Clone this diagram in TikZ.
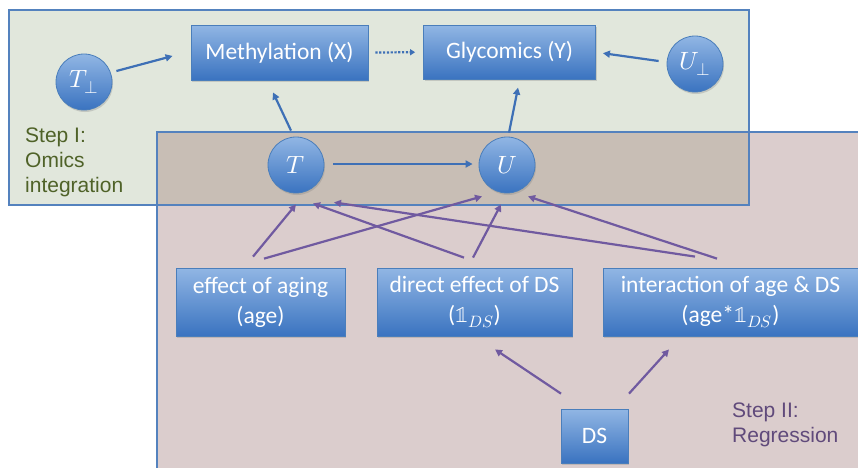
\documentclass[tikz,border=0pt]{standalone}
\usepackage{fontspec}
\usepackage{unicode-math}
\setmathfont{Latin Modern Math}
\setmainfont{Carlito}
\newfontfamily\arialfont{Liberation Sans}
\usetikzlibrary{arrows.meta,shadows,calc}
\definecolor{boxtop}{RGB}{145,182,228}
\definecolor{boxbot}{RGB}{58,115,192}
\definecolor{boxborder}{RGB}{74,126,187}
\definecolor{bluearrow}{RGB}{62,112,182}
\definecolor{purplearrow}{RGB}{112,90,160}
\definecolor{greenfill}{RGB}{225,231,220}
\definecolor{pinkfill}{RGB}{219,205,205}
\definecolor{overlapfill}{RGB}{200,190,181}
\definecolor{panelborder}{RGB}{84,130,190}
\definecolor{stepone}{RGB}{79,98,40}
\definecolor{steptwo}{RGB}{96,74,123}
\begin{document}
\begin{tikzpicture}[x=1pt,y=-1pt,
  varbox/.style={draw=boxborder, line width=0.8pt, top color=boxtop, bottom color=boxbot,
    text=white, font=\fontsize{23.5}{30}\selectfont, align=center, inner sep=0pt,
    drop shadow={opacity=0.3,shadow xshift=1pt,shadow yshift=-2pt}},
  latent/.style={circle, draw=boxborder, line width=0.8pt, top color=boxtop, bottom color=boxbot,
    text=white, minimum size=56pt, inner sep=0pt, font=\fontsize{25}{28}\selectfont,
    drop shadow={opacity=0.3,shadow xshift=1pt,shadow yshift=-2pt}},
  barrow/.style={draw=bluearrow, line width=2.2pt, -{Triangle[length=7pt,width=7pt]}},
  dotarrow/.style={draw=bluearrow, line width=2.2pt, dash pattern=on 2.2pt off 1.6pt, -{Triangle[length=5pt,width=6pt]}},
  parrow/.style={draw=purplearrow, line width=2.2pt, -{Triangle[length=7pt,width=7pt]}},
  panel/.style={draw=panelborder, line width=1.2pt},
  steplabel/.style={anchor=north west, inner sep=0pt, align=left, font=\arialfont\fontsize{21}{25}\selectfont}
]
\useasboundingbox (0,0) rectangle (858,467);
\clip (0,0) rectangle (858,467);
% panels
\fill[greenfill] (9,10) rectangle (749,205);
\fill[pinkfill] (157,132) rectangle (870,480);
\fill[overlapfill] (157,132) rectangle (749,205);
\draw[panel] (9,10) rectangle (749,205);
\draw[panel] (870,132) -- (157,132) -- (157,480);
% labels
\node[steplabel, text=stepone] (step1) at (25,127.5) {Step I:\\Omics\\integration};
\node[steplabel, text=steptwo] (step2) at (732,403) {Step II:\\Regression};
% nodes
\node[varbox, minimum width=177pt, minimum height=55pt] (meth) at (279.5,52.5) {\raisebox{-1.5pt}{Methylation (X)}};
\node[varbox, minimum width=172pt, minimum height=54pt] (gly) at (509.5,52.2) {\raisebox{-1.5pt}{Glycomics (Y)}};
\node[latent] (tperp) at (84,82) {$T_\perp$};
\node[latent] (uperp) at (695,64) {$U_\perp$};
\node[latent] (T) at (296,165) {$T$};
\node[latent] (U) at (507,165) {$U$};
\node[varbox, minimum width=169pt, minimum height=68pt] (age) at (260.5,302) {effect of aging\\(age)};
\node[varbox, minimum width=195pt, minimum height=68pt] (dir) at (474.5,302) {direct effect of DS\\($\symbb{1}_{DS}$)};
\node[varbox, minimum width=255pt, minimum height=68pt] (inter) at (730.5,302) {interaction of age \& DS\\(age*$\symbb{1}_{DS}$)};
\node[varbox, minimum width=67pt, minimum height=54pt] (ds) at (594.5,436) {DS};
% blue arrows
\draw[barrow] ($(tperp.east)+(4,-11)$) -- ($(meth.west)+(-18,3.5)$);
\draw[dotarrow] ($(meth.east)+(7,0)$) -- ($(gly.west)+(-8,0)$);
\draw[barrow] ($(uperp.west)+(-8,-3)$) -- ($(gly.east)+(7,1)$);
\draw[barrow] ($(T.north)+(-5,-6)$) -- ($(meth.south)+(-6.5,12)$);
\draw[barrow] ($(U.north)+(2,-4)$) -- ($(gly.south)+(8.5,8)$);
\draw[barrow] ($(T.east)+(9,-1)$) -- ($(U.west)+(-6,-1)$);
% purple arrows
\draw[parrow] ($(age.north)+(-7.5,-11)$) -- ($(T.south)+(0,11)$);
\draw[parrow] ($(age.north)+(3.5,-9)$) -- ($(U.south)+(-25,3)$);
\draw[parrow] ($(dir.north)+(-10.5,-10)$) -- ($(T.south)+(17,10)$);
\draw[parrow] ($(dir.north)+(-1.5,-10)$) -- ($(U.south)+(-6,11)$);
\draw[parrow] ($(inter.north)+(-35.5,-11)$) -- ($(T.south)+(38,9)$);
\draw[parrow] ($(inter.north)+(-13.5,-9)$) -- ($(U.south)+(21,3)$);
\draw[parrow] ($(ds.north)+(-33.5,-15)$) -- ($(dir.south)+(20.5,13)$);
\draw[parrow] ($(ds.north)+(34.5,-15)$) -- ($(inter.south)+(-61.5,13)$);
\end{tikzpicture}
\end{document}
